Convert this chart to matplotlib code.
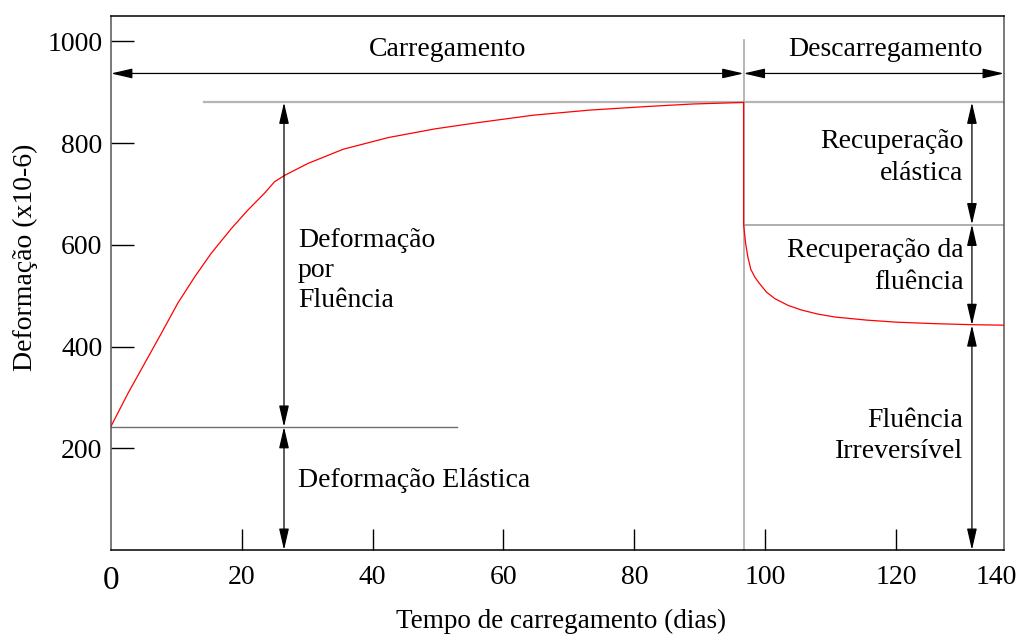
import matplotlib
matplotlib.use("Agg")
import matplotlib.pyplot as plt

plt.rcParams['font.family'] = ['Liberation Serif', 'DejaVu Serif']

# Loading phase: strain (x10-6) versus time (days)
load_days = [0, 2.6, 5.15, 7.7, 10.2, 12.8, 15.3, 18.4, 20.9, 23.5, 25.0, 26.6,
             30.1, 35.5, 42.4, 49.5, 55.9, 64.6, 73.2, 81.9, 89.0, 96.7]
load_strain = [243, 308, 367, 426, 485, 537, 583, 632, 668, 702, 724, 737,
               760, 788, 811, 828, 840, 855, 865, 872, 877, 880]

# Unloading phase: instant elastic recovery followed by creep recovery
unload_days = [96.7, 96.7, 97.0, 97.35, 97.8, 98.4, 99.0, 100.2, 101.5, 103.5,
               105.5, 108.0, 110.7, 115.5, 120.0, 126.0, 131.6, 136.5]
unload_strain = [880, 640, 604, 576, 552, 537, 526, 507, 494, 481,
                 472, 464, 458, 452, 448, 445, 443, 442]

# Reference levels
elastic_level = 242
peak_level = 880
recovered_level = 640
residual_level = 442
unload_day = 96.7
phase_arrow_level = 937

x_ticks = [0, 20, 40, 60, 80, 100, 120, 135.3]
x_tick_labels = ['0', '20', '40', '60', '80', '100', '120', '140']
y_ticks = [200, 400, 600, 800, 1000]

fig = plt.figure(figsize=(10.17, 6.35), dpi=100)
ax = fig.add_axes([0.1091, 0.1339, 0.8781, 0.8409])
ax.set_xlim(0, 136.5)
ax.set_ylim(0, 1050)

# Guide lines
ax.plot([unload_day, unload_day], [0, 1003], color='#aaaaaa', lw=1.2, zorder=1, clip_on=False)
ax.plot([14.2, 136.5], [peak_level, peak_level], color='#b5b5b5', lw=1.6, zorder=1)
ax.plot([unload_day, 136.5], [recovered_level, recovered_level], color='#999999', lw=1.1, zorder=1)
ax.plot([0, 52.9], [elastic_level, elastic_level], color='#707070', lw=1.0, zorder=1)

# Strain curve
ax.plot(load_days, load_strain, color='red', lw=0.9, zorder=3)
ax.plot(unload_days, unload_strain, color='red', lw=0.9, zorder=3)


def dim_arrow(p0, p1):
    ax.annotate('', xy=p1, xytext=p0,
                arrowprops=dict(arrowstyle='<|-|>,head_length=1.3,head_width=0.3',
                                color='black', lw=0.9, shrinkA=0, shrinkB=0,
                                mutation_scale=10),
                annotation_clip=False, zorder=4)


# Phase arrows
dim_arrow((0, phase_arrow_level), (unload_day, phase_arrow_level))
dim_arrow((unload_day, phase_arrow_level), (136.5, phase_arrow_level))

# Loading dimension arrows
xa = 26.45
dim_arrow((xa, elastic_level), (xa, peak_level))
dim_arrow((xa, 0), (xa, elastic_level))

# Unloading dimension arrows
xb = 131.6
dim_arrow((xb, recovered_level), (xb, peak_level))
dim_arrow((xb, residual_level), (xb, recovered_level))
dim_arrow((xb, 0), (xb, residual_level))

fs = 20
ax.text(51.5, 985, 'Carregamento', ha='center', va='center', fontsize=fs)
ax.text(118.3, 985, 'Descarregamento', ha='center', va='center', fontsize=fs)
ax.text(28.6, 550, 'Deformação\npor\nFluência', ha='left', va='center',
        fontsize=fs, linespacing=1.25)
ax.text(28.6, 137, 'Deformação Elástica', ha='left', va='center', fontsize=fs)
ax.text(130.3, 772, 'Recuperação\nelástica', ha='right', va='center',
        fontsize=fs, linespacing=1.35)
ax.text(130.3, 558, 'Recuperação da\nfluência', ha='right', va='center',
        fontsize=fs, linespacing=1.35)
ax.text(130.3, 224, 'Fluência\nIrreversível', ha='right', va='center',
        fontsize=fs, linespacing=1.35)

# Axes styling
ax.set_xticks(x_ticks)
ax.set_xticklabels(x_tick_labels)
ax.set_yticks(y_ticks)
ax.tick_params(axis='x', direction='in', length=15, width=1.0, labelsize=20, pad=11)
ax.tick_params(axis='y', direction='in', length=16.5, width=1.0, labelsize=20, pad=6)
for t in ax.xaxis.get_major_ticks():
    if t.get_loc() in (0, 135.3):
        t.tick1line.set_visible(False)
ax.get_xticklabels()[0].set_fontsize(24)

for side in ('top', 'bottom'):
    ax.spines[side].set_color('black')
for side in ('left', 'right'):
    ax.spines[side].set_color('#555555')
for s in ax.spines.values():
    s.set_linewidth(1.1)

ax.set_xlabel('Tempo de carregamento (dias)', fontsize=19.5)
ax.xaxis.set_label_coords(0.504, -0.111)
ax.set_ylabel('Deformação (x10-6)', fontsize=20)
ax.yaxis.set_label_coords(-0.082, 0.549)

fig.savefig('out.png', dpi=100)
